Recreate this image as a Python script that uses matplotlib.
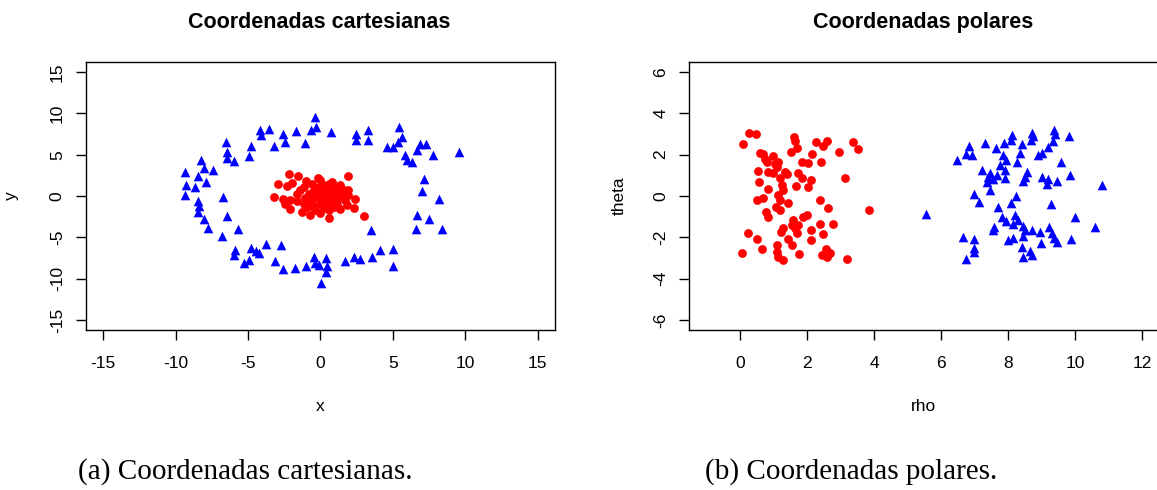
import numpy as np
import matplotlib
matplotlib.use("Agg")
import matplotlib.pyplot as plt

plt.rcParams['font.family'] = ['Liberation Sans', 'DejaVu Sans']
plt.rcParams['axes.unicode_minus'] = False

# cartesian plot, inner cloud (red circles)
cart_red_x = [-2.19, -1.57, -2.95, -1.96, -2.30, -0.97, -0.19, -0.01, 1.88, 0.57,
              1.37, 1.14, -3.23, -2.58, -2.08, -2.42, -2.08, -1.61, -1.39, -1.16,
              -0.81, -0.58, -0.47, -0.23, 0.11, 0.46, 0.68, 0.91, 1.60, 1.94,
              0.34, -0.01, 0.46, 0.91, 1.37, 1.72, 2.41, -1.16, -0.92, -1.27,
              -0.70, -0.35, -0.01, 0.57, 0.57, 0.91, 1.37, 1.83, 2.29, 3.03,
              -0.70, -0.23, -1.04, 0.22, 1.14, 1.94, -1.61, 1.37, 0.11, 0.80,
              0.30, 0.60, -0.40, 1.00, 0.20, -0.60, 1.20, 0.80, -0.20, 0.40,
              -1.00, 1.60, 0.00, -0.50, 0.70, 0.15, 1.45, -0.75, 0.95, 0.35]
cart_red_y = [2.63, 2.39, 1.51, 1.58, 1.18, 1.82, 2.23, 1.91, 2.43, 1.51,
              1.39, 1.10, -0.11, -0.42, -0.51, -0.99, -1.63, -0.59, 0.70, 1.10,
              0.30, 1.51, 0.70, -0.11, 0.50, 1.10, 0.30, 0.91, 0.70, 0.70,
              -0.30, -0.91, -0.91, -0.51, -0.11, -0.51, -0.42, -0.91, -1.32, -1.92,
              -2.32, -1.72, -2.11, -2.72, -1.72, -1.32, -1.63, -1.11, -1.51, -2.40,
              -0.30, 0.70, -0.30, -1.51, -0.91, 0.10, 0.30, 0.50, 1.51, 1.70,
              0.20, -0.20, 0.40, 0.30, -0.60, -0.50, -0.30, 0.60, 1.00, 0.90,
              -0.80, 0.30, 0.40, -1.20, -1.00, -0.10, 0.10, 0.00, -0.20, 0.55]

# cartesian plot, outer ring (blue triangles)
cart_blue_x = [-0.35, -0.30, -0.65, -4.14, -3.57, -4.08, -1.66, -2.61, -2.42, -3.18,
               -1.09, -6.49, -4.77, -6.44, -4.90, -6.44, -5.94, -8.23, -8.01, -7.43,
               -9.37, -8.44, -7.89, -9.27, -8.63, -9.37, -6.72, -8.44, -8.40, -8.44,
               -6.44, -8.06, -7.75, -5.68, -6.79, -5.87, -5.94, -4.79, -4.42, -3.73,
               -2.72, -4.26, -4.95, -5.30, -3.11, -2.61, -1.73, -0.99, -0.47, -0.35,
               0.75, 2.48, 3.28, 2.48, 3.32, 5.44, 4.59, 5.01, 5.35, 5.63,
               6.66, 6.89, 7.30, 5.86, 5.97, 6.32, 7.81, 9.56, 7.17, 7.01,
               8.22, 6.70, 7.53, 6.57, 8.39, 3.51, 4.13, 5.01, 3.60, 2.29,
               2.75, 1.67, 5.01, 0.41, 0.46, 0.41, -0.06, 0.06]
cart_blue_y = [9.56, 8.35, 7.95, 8.03, 8.16, 7.35, 7.83, 7.55, 6.54, 6.05,
               6.46, 6.54, 6.02, 5.33, 4.81, 4.65, 4.20, 4.33, 3.39, 3.20,
               2.91, 2.39, 1.67, 1.39, 1.10, 0.10, -0.18, -0.59, -1.23, -1.92,
               -2.44, -2.80, -3.81, -3.93, -4.86, -6.55, -7.15, -6.34, -6.63, -5.82,
               -5.94, -6.95, -7.76, -8.16, -7.84, -8.88, -8.76, -8.45, -7.36, -8.16,
               7.74, 7.55, 7.95, 6.83, 6.83, 8.35, 5.93, 5.93, 6.54, 7.14,
               5.53, 6.26, 6.26, 4.93, 4.33, 4.12, 5.01, 5.26, 2.11, 0.62,
               -0.42, -2.24, -2.84, -3.93, -3.93, -4.13, -6.55, -6.43, -7.36, -7.36,
               -7.67, -7.88, -8.48, -7.48, -8.45, -9.17, -8.36, -10.54]

# polar plot, inner cloud
pol_red_rho = [0.26, 0.46, 0.09, 1.61, 1.64, 2.26, 2.58, 2.48, 3.38, 3.53,
               2.95, 1.69, 1.51, 0.59, 0.69, 0.74, 0.99, 0.79, 1.04, 1.14,
               1.11, 0.52, 0.84, 0.97, 1.34, 1.39, 1.73, 1.84, 2.16, 2.03,
               1.84, 2.40, 0.56, 0.82, 1.19, 1.24, 1.29, 1.67, 2.03, 2.13,
               3.13, 0.49, 0.69, 1.14, 1.19, 1.43, 2.38, 2.63, 0.76, 0.82,
               1.07, 1.19, 1.57, 1.54, 1.88, 1.99, 1.64, 1.73, 1.29, 1.22,
               1.69, 1.42, 2.13, 2.38, 2.78, 2.48, 2.13, 0.22, 0.49, 0.64,
               1.09, 1.09, 1.54, 1.14, 1.29, 1.75, 2.44, 2.56, 2.68, 2.58,
               3.18, 0.06, 3.85]
pol_red_theta = [3.05, 2.99, 2.50, 2.86, 2.66, 2.61, 2.66, 2.41, 2.61, 2.25,
                 2.13, 2.30, 2.13, 2.08, 2.01, 1.81, 1.92, 1.65, 1.57, 1.65,
                 1.41, 1.21, 1.16, 1.09, 1.16, 1.04, 1.12, 0.85, 2.02, 1.60,
                 1.65, 1.65, 0.68, 0.36, 0.85, 0.52, 0.28, 0.49, 0.44, 0.76,
                 0.89, -0.20, -0.12, 0.04, -0.20, -0.33, -0.17, -0.58, -0.77, -1.01,
                 -0.53, -0.69, -1.17, -1.41, -1.01, -0.90, -1.57, -1.41, -1.57, -1.73,
                 -1.81, -2.06, -1.65, -1.33, -1.36, -1.86, -2.14, -1.77, -2.09, -2.54,
                 -2.38, -2.70, -2.38, -2.94, -3.10, -2.81, -2.86, -2.54, -2.78, -2.94,
                 -3.07, -2.78, -0.69]

# polar plot, outer ring
pol_blue_rho = [5.55, 6.49, 6.75, 6.85, 6.92, 7.32, 7.64, 7.89, 8.11, 8.08,
                8.41, 8.36, 8.71, 8.76, 8.68, 9.36, 9.41, 9.33, 9.82, 9.21,
                9.01, 8.91, 9.58, 9.86, 10.82, 7.84, 7.94, 8.26, 7.76, 7.22,
                7.46, 7.41, 7.56, 7.67, 7.91, 7.91, 7.37, 7.46, 8.56, 8.51,
                8.46, 9.01, 9.21, 9.18, 9.46, 6.97, 7.12, 7.71, 8.09, 8.24,
                9.29, 10.01, 10.60, 7.81, 7.94, 8.21, 8.31, 8.16, 7.58, 7.55,
                8.46, 8.51, 8.71, 8.46, 8.96, 9.24, 9.31, 9.36, 9.46, 8.98,
                9.88, 6.65, 6.99, 6.97, 6.97, 6.75, 8.01, 8.14, 8.41, 8.66,
                8.71, 8.46]
pol_blue_theta = [-0.88, 1.73, 2.05, 2.41, 1.97, 2.57, 2.30, 2.54, 2.94, 2.73,
                  2.50, 2.08, 3.05, 2.89, 2.73, 3.18, 2.99, 2.66, 2.89, 2.37,
                  2.08, 1.97, 1.65, 1.01, 0.52, 1.97, 1.76, 1.65, 1.49, 1.25,
                  1.12, 0.92, 0.80, 1.01, 1.25, 0.89, 0.68, 0.28, 1.16, 0.92,
                  0.73, 0.92, 0.80, 0.56, 0.72, 0.12, -0.29, -0.53, -0.33, -0.01,
                  -0.41, -1.01, -1.49, -1.01, -1.22, -0.93, -1.14, -1.33, -1.49, -1.62,
                  -1.46, -1.65, -1.65, -1.94, -1.74, -1.49, -1.81, -2.05, -2.22, -2.27,
                  -2.09, -1.98, -2.09, -2.51, -2.73, -3.07, -2.14, -2.05, -2.46, -2.65,
                  -2.86, -2.94]

W, H = 1157, 490
fig = plt.figure(figsize=(W / 100, H / 100), dpi=100)

ax1 = fig.add_axes([85.7 / W, 160 / H, 469.3 / W, 268 / H])
ax2 = fig.add_axes([689.3 / W, 160 / H, 470 / W, 268 / H])

ax1.scatter(cart_red_x, cart_red_y, s=40, marker='o', color='#ff0000', linewidths=0)
ax1.scatter(cart_blue_x, cart_blue_y, s=48, marker='^', color='#0000ff', linewidths=0)
ax2.scatter(pol_red_rho, pol_red_theta, s=40, marker='o', color='#ff0000', linewidths=0)
ax2.scatter(pol_blue_rho, pol_blue_theta, s=48, marker='^', color='#0000ff', linewidths=0)

ax1.set_xlim(-16.2, 16.2)
ax1.set_ylim(-16.2, 16.2)
ax1.set_xticks(range(-15, 16, 5))
ax1.set_yticks(range(-15, 16, 5))
ax2.set_xlim(-1.52, 12.52)
ax2.set_ylim(-6.48, 6.48)
ax2.set_xticks(range(0, 13, 2))
ax2.set_yticks(range(-6, 7, 2))

for ax in (ax1, ax2):
    for sp in ax.spines.values():
        sp.set_linewidth(1.0)
        sp.set_color('black')
    ax.tick_params(axis='both', direction='out', length=7, width=1.0,
                   labelsize=12.5, colors='black')
    ax.tick_params(axis='x', pad=12)
    ax.tick_params(axis='y', pad=8)
    plt.setp(ax.get_yticklabels(), rotation=90, va='center')

# titles, axis labels and captions
fig.text(319 / W, 1 - 28 / H, 'Coordenadas cartesianas', ha='center', va='baseline',
         fontsize=15.5, fontweight='bold')
fig.text(923 / W, 1 - 28 / H, 'Coordenadas polares', ha='center', va='baseline',
         fontsize=15.5, fontweight='bold')
fig.text(320 / W, 1 - 411 / H, 'x', ha='center', va='baseline', fontsize=12.5)
fig.text(924 / W, 1 - 411 / H, 'rho', ha='center', va='baseline', fontsize=12.5)
fig.text(15.7 / W, 1 - 196 / H, 'y', ha='center', va='baseline', rotation=90,
         rotation_mode='anchor', fontsize=12.5)
fig.text(624 / W, 1 - 196 / H, 'theta', ha='center', va='baseline', rotation=90,
         rotation_mode='anchor', fontsize=12.5)

fig.text(78.5 / W, 1 - 479 / H, '(a) Coordenadas cartesianas.', ha='left', va='baseline',
         fontsize=21, family='Liberation Serif')
fig.text(704.8 / W, 1 - 479 / H, '(b) Coordenadas polares.', ha='left', va='baseline',
         fontsize=21, family='Liberation Serif')

fig.savefig('out.png', dpi=100)
